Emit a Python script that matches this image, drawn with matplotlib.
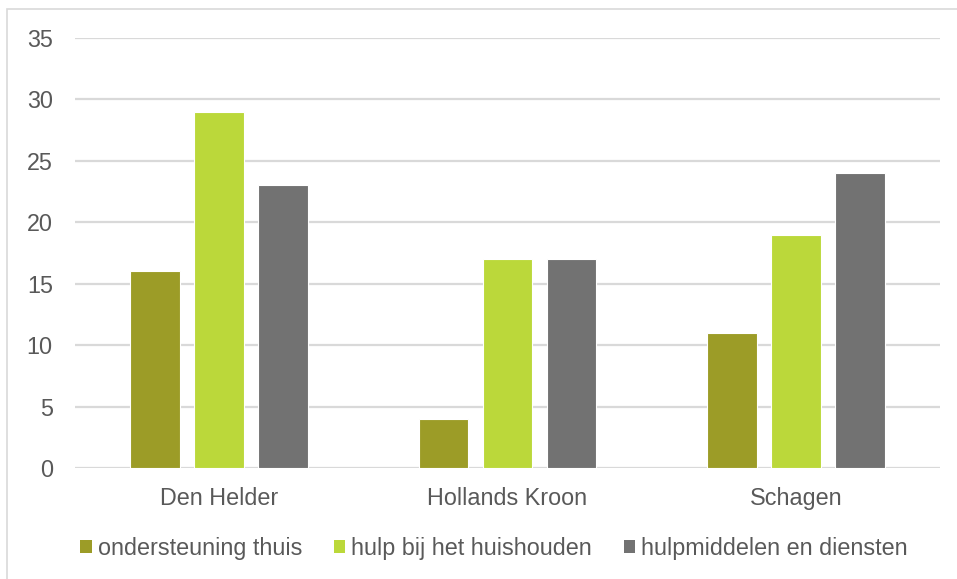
import matplotlib
matplotlib.use("Agg")
import matplotlib.pyplot as plt
from matplotlib.patches import Rectangle, Patch
import numpy as np

plt.rcParams['font.family'] = ['Liberation Sans', 'DejaVu Sans']

gemeenten = ["Den Helder", "Hollands Kroon", "Schagen"]
series_names = ["ondersteuning thuis", "hulp bij het huishouden", "hulpmiddelen en diensten"]
ondersteuning_thuis = [16, 4, 11]
hulp_huishouden = [29, 17, 19]
hulpmiddelen_diensten = [23, 17, 24]
y_ticks = [0, 5, 10, 15, 20, 25, 30, 35]

colors = ["#9C9C27", "#BBD83A", "#727272"]
text_color = "#595959"
grid_color = "#D9D9D9"
fs = 16.8

fig = plt.figure(figsize=(9.57, 5.79), dpi=100)
ax = fig.add_axes([75 / 957, 1 - 468 / 579, 865 / 957, 430 / 579])

x = np.arange(len(gemeenten))
width = 0.173
step = 0.222
for i, (vals, col) in enumerate(zip([ondersteuning_thuis, hulp_huishouden, hulpmiddelen_diensten], colors)):
    ax.bar(x + (i - 1) * step, vals, width, color=col, edgecolor="white",
           linewidth=0.8, zorder=3, label=series_names[i])

ax.set_xlim(-0.5, 2.5)
ax.set_ylim(0, 35)
ax.set_yticks(y_ticks)
ax.set_yticklabels([str(v) for v in y_ticks])
ax.set_xticks(x)
ax.set_xticklabels(gemeenten)
ax.tick_params(axis='both', length=0, labelsize=fs, colors=text_color)
ax.tick_params(axis='y', pad=16)
ax.tick_params(axis='x', pad=14)
ax.grid(axis='y', color=grid_color, linewidth=1.6, zorder=0)
for s in ax.spines.values():
    s.set_visible(False)

handles = [Patch(facecolor=c, edgecolor='none') for c in colors]
fig.legend(handles, series_names, loc='center', bbox_to_anchor=(494 / 957, 1 - 548 / 579),
           ncol=3, frameon=False, fontsize=fs, labelcolor=text_color,
           handlelength=0.5, handleheight=0.5, handletextpad=0.25,
           columnspacing=1.35, borderpad=0, borderaxespad=0)

# chart frame
fig.patches.append(Rectangle((7 / 957, -0.2), 2.0, 1.2 - 9 / 579, transform=fig.transFigure,
                             fill=False, edgecolor=grid_color, linewidth=1.2))

fig.savefig("out.png", dpi=100, facecolor="white")
